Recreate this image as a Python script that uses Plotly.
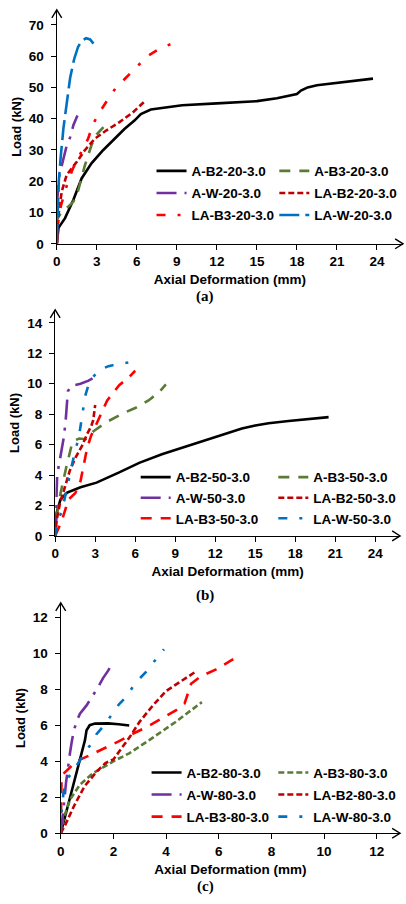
import plotly.graph_objects as go

# ---------------- DATA ----------------
# Panel (a): 20 mm series
a_b2_20_x = [0, 0.13, 0.62, 1.24, 1.86, 2.6, 3.47, 4.33, 5.07, 5.82, 6.3, 7.05, 9.4, 12, 15, 16.5, 18, 18.3, 18.8, 19.5, 21, 23.7]
a_b2_20_y = [0, 5.1, 8.2, 14, 20.9, 25.7, 29.9, 33.6, 36.7, 39.4, 41.5, 42.9, 44.3, 44.9, 45.6, 46.5, 47.9, 49.0, 50.0, 50.7, 51.5, 52.8]
a_b3_20_x = [0, 0.05, 0.4, 0.9, 1.25, 1.6, 2.1, 2.6, 3.0, 3.5]
a_b3_20_y = [0, 8, 10.5, 12, 13.5, 17, 25, 31.5, 35, 37.3]
a_w_20_x = [0, 0.05, 0.2, 0.5, 0.75, 1.0, 1.25, 1.55]
a_w_20_y = [0, 15, 22, 27, 31.5, 34, 38, 41]
la_b2_20_x = [0, 0.05, 0.13, 0.37, 0.74, 1.5, 2.1, 2.85, 3.7, 4.7, 5.7, 6.68]
la_b2_20_y = [0, 5, 9.3, 16.7, 22, 26.2, 29.9, 33.6, 36.2, 38.9, 42, 45.9]
la_b3_20_x = [0, 0.1, 0.3, 0.7, 1.2, 1.8, 2.35, 2.72, 3.2, 3.84, 4.45, 5.07, 6.06, 6.8, 7.8, 8.8]
la_b3_20_y = [0, 7, 12, 18, 24, 29, 33.6, 38.3, 42, 46.2, 50, 52.6, 56.8, 60, 62.6, 64.2]
la_w_20_x = [0, 0.05, 0.15, 0.3, 0.5, 0.75, 1.0, 1.3, 1.6, 1.9, 2.2, 2.5, 2.75]
la_w_20_y = [0, 10, 20, 28, 37, 45, 53, 59, 63, 65, 65.7, 65.3, 64]

# Panel (b): 50 mm series
a_b2_50_x = [0, 0.1, 0.4, 0.9, 1.9, 3.1, 4.8, 6.3, 8.0, 9.9, 12.0, 13.0, 14.0, 15.0, 16.0, 17.5, 19.0, 20.5]
a_b2_50_y = [0, 1.5, 2.4, 2.85, 3.2, 3.5, 4.17, 4.8, 5.36, 5.9, 6.5, 6.8, 7.05, 7.25, 7.4, 7.55, 7.68, 7.8]
a_b3_50_x = [0, 0.15, 0.4, 0.65, 0.85, 1.05, 1.3, 1.8, 2.3, 2.9, 3.9, 5.2, 6.0, 7.0, 7.8, 8.3]
a_b3_50_y = [0, 1.5, 2.8, 3.9, 4.6, 5.3, 6.2, 6.4, 6.35, 6.9, 7.5, 8.1, 8.4, 8.9, 9.45, 9.95]
a_w_50_x = [0, 0.05, 0.15, 0.45, 0.65, 0.78, 0.87, 0.95, 1.2, 1.9, 2.5, 2.8]
a_w_50_y = [0, 2, 4, 5.5, 6.5, 7.5, 8.5, 9.5, 9.85, 10.0, 10.2, 10.35]
la_b2_50_x = [0, 0.1, 0.35, 0.7, 1.1, 1.5, 2.0, 2.4, 2.7, 2.85, 2.95, 3.0]
la_b2_50_y = [0, 1.0, 2.1, 3.2, 4.3, 5.1, 5.9, 6.7, 7.2, 7.6, 8.1, 8.6]
la_b3_50_x = [0, 0.5, 1.0, 1.5, 1.9, 2.2, 2.4, 2.7, 3.3, 3.9, 4.8, 5.5, 6.0]
la_b3_50_y = [0, 1.0, 2.4, 2.8, 3.6, 4.8, 5.8, 6.6, 7.8, 8.9, 9.9, 10.4, 10.85]
la_w_50_x = [0, 0.12, 0.5, 0.74, 1.0, 1.24, 1.5, 1.75, 1.9, 2.05, 2.25, 2.6, 3.3, 4.0, 4.7, 5.2, 5.6]
la_w_50_y = [0, 0.9, 1.6, 2.65, 3.7, 4.6, 5.6, 6.4, 7.2, 8.1, 9.2, 10.2, 10.9, 11.15, 11.3, 11.35, 11.4]

# Panel (c): 80 mm series
a_b2_80_x = [0, 0.17, 0.48, 0.73, 0.92, 0.98, 1.1, 1.3, 1.8, 2.2, 2.6]
a_b2_80_y = [0, 0.96, 2.6, 4.07, 5.17, 5.72, 6.0, 6.09, 6.1, 6.05, 5.98]
a_b3_80_x = [0, 0.1, 0.35, 0.73, 1.23, 1.98, 2.6, 3.36, 4.36, 5.36]
a_b3_80_y = [0, 0.77, 1.87, 2.7, 3.34, 3.98, 4.44, 5.17, 6.18, 7.28]
a_w_80_x = [0, 0.05, 0.12, 0.2, 0.28, 0.35, 0.42, 0.5, 0.6, 0.73, 0.98, 1.23, 1.42, 1.6, 1.8, 2.0]
a_w_80_y = [0, 0.6, 1.6, 2.8, 3.8, 4.44, 5.1, 5.7, 6.2, 6.64, 7.1, 7.65, 8.11, 8.6, 9.03, 9.54]
la_b2_80_x = [0, 0.15, 0.5, 0.9, 1.35, 1.7, 2.0, 2.3, 2.6, 3.0, 3.5, 4.0, 4.5, 5.1]
la_b2_80_y = [0, 0.4, 1.5, 2.6, 3.4, 3.9, 4.1, 4.7, 5.3, 6.2, 7.1, 7.9, 8.4, 8.95]
la_b3_80_x = [0, 0.03, 0.1, 0.3, 0.6, 1.2, 1.7, 2.2, 2.7, 3.2, 3.8, 4.4, 4.7, 4.85, 4.95, 5.3, 5.9, 6.55]
la_b3_80_y = [0, 3.0, 3.3, 3.6, 4.0, 4.4, 4.75, 5.1, 5.5, 5.85, 6.35, 6.85, 7.2, 7.9, 8.3, 8.7, 9.1, 9.67]
la_w_80_x = [0, 0.04, 0.1, 0.22, 0.4, 0.7, 0.98, 1.17, 1.35, 1.6, 1.79, 2.02, 2.23, 2.48, 2.73, 2.98, 3.23, 3.45, 3.7, 3.92]
la_w_80_y = [0, 1.3, 2.2, 3.0, 3.3, 4.0, 4.62, 4.99, 5.49, 5.91, 6.27, 6.79, 7.19, 7.56, 8.11, 8.57, 8.94, 9.36, 9.8, 10.22]

x_ticks_ab = [0, 3, 6, 9, 12, 15, 18, 21, 24]
x_ticks_c = [0, 2, 4, 6, 8, 10, 12]
y_ticks_a = [0, 10, 20, 30, 40, 50, 60, 70]
y_ticks_b = [0, 2, 4, 6, 8, 10, 12, 14]
y_ticks_c = [0, 2, 4, 6, 8, 10, 12]

captions = ["(a)", "(b)", "(c)"]
x_title = "Axial Deformation (mm)"
y_title = "Load (kN)"

# ---------------- STYLE ----------------
W, H = 406, 904
BLACK, OLIVE, PURPLE, DARKRED, RED, BLUE = "#000000", "#5B7B35", "#7030A0", "#C00000", "#FF0000", "#0070C0"
FONT = dict(family="Arial", size=13.5, color="#000000", weight="bold")


def fx(p):
    return p / W


def fy(p):
    return 1 - p / H


# panel geometry in pixels: x0 (value 0), x_end (arrow tip), y0 (value 0), y_top (arrow tip), px per unit
panels = [
    dict(x0=53.3, xend=403, xs=13.475, y0=246, ytop=10, ys=3.157, xt=x_ticks_ab, yt=y_ticks_a, cap_y=309),
    dict(x0=51.7, xend=400, xs=13.47, y0=540.7, ytop=312.7, ys=15.36, xt=x_ticks_ab, yt=y_ticks_b, cap_y=610),
    dict(x0=57.3, xend=400, xs=26.6, y0=840.7, ytop=608.3, ys=18.17, xt=x_ticks_c, yt=y_ticks_c, cap_y=904),
]

series = [
    # panel, name, x, y, color, dash, legend column
    (0, "A-B2-20-3.0", a_b2_20_x, a_b2_20_y, BLACK, "solid", 0),
    (0, "A-B3-20-3.0", a_b3_20_x, a_b3_20_y, OLIVE, "11px,9px", 1),
    (0, "A-W-20-3.0", a_w_20_x, a_w_20_y, PURPLE, "20px,8px,3px,8px", 0),
    (0, "LA-B2-20-3.0", la_b2_20_x, la_b2_20_y, DARKRED, "6px,3px", 1),
    (0, "LA-B3-20-3.0", la_b3_20_x, la_b3_20_y, RED, "9px,12px,3px,12px", 0),
    (0, "LA-W-20-3.0", la_w_20_x, la_w_20_y, BLUE, "20px,6px", 1),
    (1, "A-B2-50-3.0", a_b2_50_x, a_b2_50_y, BLACK, "solid", 0),
    (1, "A-B3-50-3.0", a_b3_50_x, a_b3_50_y, OLIVE, "11px,9px", 1),
    (1, "A-W-50-3.0", a_w_50_x, a_w_50_y, PURPLE, "20px,8px,3px,8px", 0),
    (1, "LA-B2-50-3.0", la_b2_50_x, la_b2_50_y, DARKRED, "6px,3px", 1),
    (1, "LA-B3-50-3.0", la_b3_50_x, la_b3_50_y, RED, "11px,9px", 0),
    (1, "LA-W-50-3.0", la_w_50_x, la_w_50_y, BLUE, "9px,12px,3px,12px", 1),
    (2, "A-B2-80-3.0", a_b2_80_x, a_b2_80_y, BLACK, "solid", 0),
    (2, "A-B3-80-3.0", a_b3_80_x, a_b3_80_y, OLIVE, "6px,3px", 1),
    (2, "A-W-80-3.0", a_w_80_x, a_w_80_y, PURPLE, "20px,8px,3px,8px", 0),
    (2, "LA-B2-80-3.0", la_b2_80_x, la_b2_80_y, DARKRED, "6px,3px", 1),
    (2, "LA-B3-80-3.0", la_b3_80_x, la_b3_80_y, RED, "11px,9px", 0),
    (2, "LA-W-80-3.0", la_w_80_x, la_w_80_y, BLUE, "9px,12px,3px,12px", 1),
]

# legend positions (px): left edge of each column, top, group gap
legend_pos = [
    [(149, 157, 1.5), (273, 157, 1.5)],
    [(133, 466, 0.0), (272, 466, 0.0)],
    [(144, 764, 1.5), (272, 764, 1.5)],
]

fig = go.Figure()

for p, name, xs, ys, col, dash, lc in series:
    suf = "" if p == 0 else str(p + 1)
    leg_idx = p * 2 + lc + 1
    leg = "legend" if leg_idx == 1 else "legend%d" % leg_idx
    fig.add_trace(go.Scatter(
        x=xs, y=ys, mode="lines", name=name,
        line=dict(color=col, width=2.6, dash=dash),
        xaxis="x" + suf, yaxis="y" + suf,
        legend=leg, legendgroup=name,
    ))

layout = dict(
    width=W, height=H, margin=dict(l=0, r=0, t=0, b=0),
    paper_bgcolor="white", plot_bgcolor="white",
    font=FONT, showlegend=True,
)

shapes = []
annotations = []
for i, g in enumerate(panels):
    suf = "" if i == 0 else str(i + 1)
    xr = (g["xend"] - g["x0"]) / g["xs"]
    yr = (g["y0"] - g["ytop"]) / g["ys"]
    common = dict(showline=True, linecolor="black", linewidth=1.4, ticks="outside",
                  ticklen=5, tickwidth=1.2, tickcolor="black", showgrid=False,
                  zeroline=False, tickfont=FONT)
    layout["xaxis" + suf] = dict(
        domain=[fx(g["x0"]), fx(g["xend"])], range=[0, xr], tickvals=g["xt"],
        anchor="y" + suf, title=dict(text=x_title, font=FONT, standoff=6), **common)
    layout["yaxis" + suf] = dict(
        domain=[fy(g["y0"]), fy(g["ytop"])], range=[0, yr], tickvals=g["yt"],
        anchor="x" + suf, ticklabelstandoff=4,
        title=dict(text=y_title, font=dict(FONT, size=13), standoff=4), **common)
    # arrowheads (open V)
    xt, yt = g["xend"], g["y0"]
    shapes.append(dict(type="path", xref="paper", yref="paper",
                       path="M %f %f L %f %f L %f %f" % (fx(xt - 8), fy(yt - 5), fx(xt), fy(yt), fx(xt - 8), fy(yt + 5)),
                       line=dict(color="black", width=1.4)))
    xa, ya = g["x0"], g["ytop"]
    shapes.append(dict(type="path", xref="paper", yref="paper",
                       path="M %f %f L %f %f L %f %f" % (fx(xa - 5), fy(ya + 8), fx(xa), fy(ya), fx(xa + 5), fy(ya + 8)),
                       line=dict(color="black", width=1.4)))
    annotations.append(dict(text=captions[i], xref="paper", yref="paper", x=fx(203), y=fy(g["cap_y"]),
                            showarrow=False, xanchor="center", yanchor="bottom", borderpad=0,
                            font=dict(family="Liberation Serif", size=15, color="black")))
    for c in range(2):
        lx, ly, gap = legend_pos[i][c]
        idx = i * 2 + c + 1
        key = "legend" if idx == 1 else "legend%d" % idx
        layout[key] = dict(x=fx(lx), y=fy(ly), xanchor="left", yanchor="top",
                           bgcolor="rgba(0,0,0,0)", borderwidth=0, font=FONT,
                           tracegroupgap=gap, itemwidth=30, orientation="v")

layout["shapes"] = shapes
layout["annotations"] = annotations
fig.update_layout(**layout)
fig.write_html("out.html")
